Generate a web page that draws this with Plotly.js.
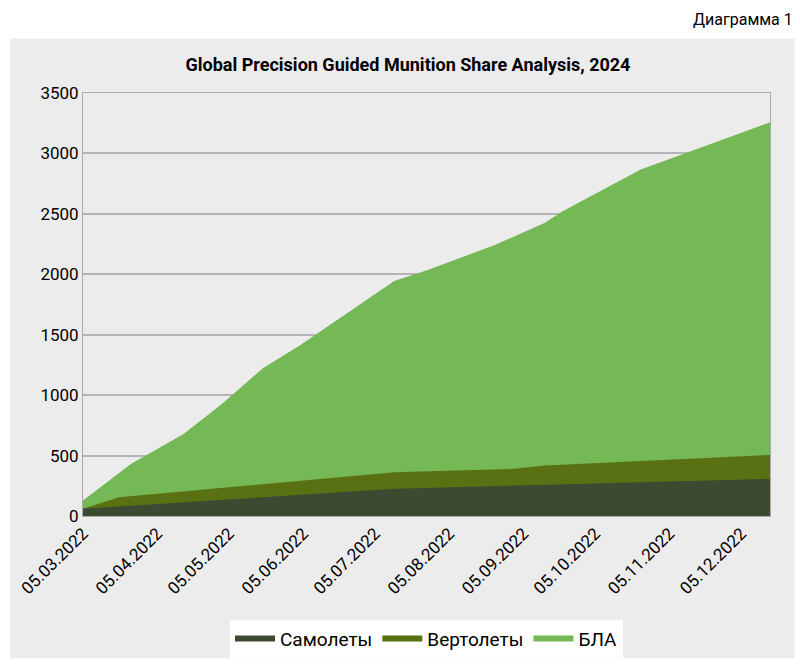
<!DOCTYPE html>
<html><head><meta charset="utf-8">
<script src="https://cdn.plot.ly/plotly-3.0.1.min.js"></script>
<style>body{margin:0;background:#fff}</style>
</head><body>
<div id="myDiv" style="width:800px;height:670px"></div>
<script>
// stacked totals
let blaDates = ['2022-03-05','2022-03-25','2022-04-16','2022-05-02','2022-05-19','2022-06-04','2022-07-13','2022-07-27','2022-08-24','2022-09-14','2022-09-21','2022-10-24','2022-12-17']
let blaTop = [128, 431, 679, 927, 1221, 1416, 1945, 2036, 2242, 2427, 2517, 2867, 3258]

let helDates = ['2022-03-05','2022-03-20','2022-07-13','2022-09-01','2022-09-14','2022-12-17']
let helTop = [60, 156, 362, 390, 417, 505]

let planeDates = ['2022-03-05','2022-07-13','2022-12-17']
let planeTop = [60, 225, 307]

let ticks = ['2022-03-05','2022-04-05','2022-05-05','2022-06-05','2022-07-05','2022-08-05','2022-09-05','2022-10-05','2022-11-05','2022-12-05']
let tickText = ticks.map(d => d.slice(8, 10) + '.' + d.slice(5, 7) + '.' + d.slice(0, 4))

let font = 'Liberation Sans Narrow, Roboto, sans-serif'

let traces = [
  {x: blaDates, y: blaTop, name: 'БЛА', fill: 'tozeroy', mode: 'none', fillcolor: '#75b957', legendrank: 3},
  {x: helDates, y: helTop, name: 'Вертолеты', fill: 'tozeroy', mode: 'none', fillcolor: '#5a7113', legendrank: 2},
  {x: planeDates, y: planeTop, name: 'Самолеты', fill: 'tozeroy', mode: 'none', fillcolor: '#3d4a32', legendrank: 1}
]

let layout = {
  width: 800, height: 670,
  margin: {l: 83, r: 30, t: 93, b: 149},
  paper_bgcolor: '#ffffff',
  plot_bgcolor: '#ececec',
  font: {family: font, size: 17, color: '#000'},
  title: {text: '<b>Global Precision Guided Munition Share Analysis, 2024</b>', x: 0.51, y: 0.913, font: {size: 18}},
  showlegend: true,
  legend: {orientation: 'h', x: 0.5, xanchor: 'center', y: -0.245, font: {size: 19}, itemwidth: 40},
  xaxis: {
    type: 'date', range: ['2022-03-05', '2022-12-17'],
    tickvals: ticks, ticktext: tickText, tickangle: -45,
    showgrid: false, zeroline: false, showline: true, linecolor: '#aaa', mirror: true,
    ticks: '', tickfont: {size: 17}
  },
  yaxis: {
    range: [0, 3500], dtick: 500, gridcolor: '#b4b4b4', gridwidth: 1.5,
    showline: true, linecolor: '#aaa', mirror: true, zeroline: false, tickfont: {size: 17}
  },
  shapes: [{type: 'rect', xref: 'paper', yref: 'paper', x0: -0.106, x1: 1.036, y0: -0.336, y1: 1.128,
    fillcolor: '#ececec', line: {width: 0}, layer: 'below'}],
  annotations: [{text: 'Диаграмма 1', xref: 'paper', yref: 'paper', x: 1.036, y: 1.2, xanchor: 'right',
    showarrow: false, font: {size: 16}}]
}

Plotly.newPlot('myDiv', traces, layout, {displayModeBar: false})
</script>
</body></html>
